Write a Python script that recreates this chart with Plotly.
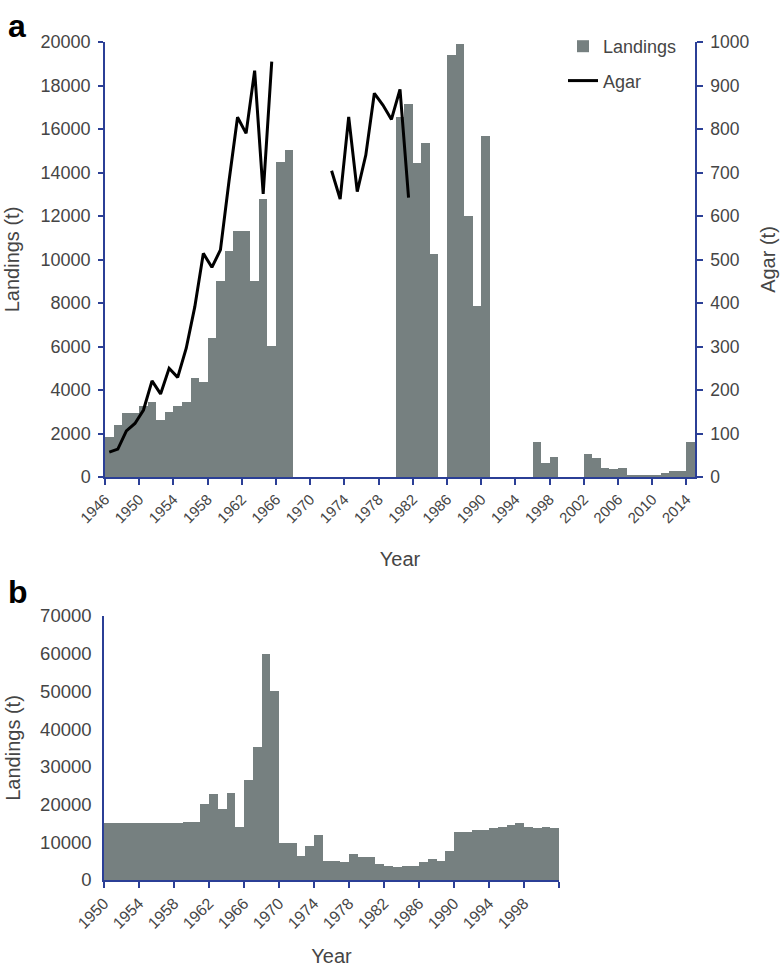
import plotly.graph_objects as go

# ---------------- Panel a data ----------------
years_a = list(range(1946, 2015))
landings_a = [
    1850, 2400, 2950, 2950, 3250, 3450, 2600, 3000, 3250, 3450,   # 1946-1955
    4550, 4370, 6400, 9000, 10400, 11300, 11300, 9000, 12800, 6040,  # 1956-1965
    14500, 15050, 0, 0, 0, 0, 0, 0, 0, 0,                          # 1966-1975
    0, 0, 0, 0, 16540, 17150, 14450, 15340, 10250, 0,              # 1976-1985
    19400, 19910, 12000, 7860, 15690, 0, 0, 0, 0, 0,               # 1986-1995
    1625, 660, 920, 0, 0, 0, 1070, 860, 430, 350,                  # 1996-2005
    430, 80, 80, 80, 80, 170, 290, 290, 1625                       # 2006-2014
]

agar_years = list(range(1946, 1966)) + [None] + list(range(1972, 1982))
agar_values = [
    57, 64, 106, 123, 154, 221, 191, 250, 229, 296,
    391, 514, 482, 522, 680, 827, 790, 934, 651, 955,
    None,
    704, 639, 828, 656, 740, 882, 855, 822, 891, 642
]

ticks_a = list(range(1946, 2015, 4))
yticks_a = list(range(0, 20001, 2000))
yticks_a2 = list(range(0, 1001, 100))

# ---------------- Panel b data ----------------
years_b = list(range(1950, 2002))
landings_b = [
    15000, 15000, 15000, 15000, 15000, 15000, 15000, 15000, 15000, 15500,  # 1950-1959
    15500, 20150, 22700, 18800, 23150, 14140, 26500, 35200, 59900, 50100,  # 1960-1969
    9900, 9900, 6360, 9000, 11930, 5130, 5130, 4680, 6900, 6000,           # 1970-1979
    6000, 4240, 3800, 3360, 3800, 3800, 4680, 5570, 5130, 7690,            # 1980-1989
    12820, 12820, 13260, 13260, 13700, 13960, 14580, 15030, 14140, 13700,  # 1990-1999
    14140, 13700                                                           # 2000-2001
]
ticks_b = list(range(1950, 2003, 4))
ticktext_b = [str(t) if t <= 1998 else "" for t in ticks_b]
yticks_b = list(range(0, 70001, 10000))

BAR = "rgb(118,128,128)"
AXIS = "#2b3f96"
TXT = "#454545"
FONT = "Liberation Sans, Arial, Helvetica, sans-serif"

W, H = 780, 970


def fx(px):
    return px / W


def fy(py):
    return 1 - py / H


def tf(size):
    return dict(family=FONT, color=TXT, size=size)


fig = go.Figure()

fig.add_trace(go.Bar(
    x=[y + 0.5 for y in years_a], y=landings_a, width=1,
    marker=dict(color=BAR, line=dict(width=0)),
    name="Landings", xaxis="x", yaxis="y", showlegend=True, legendgroup="land",
))
fig.add_trace(go.Scatter(
    x=[(y + 0.5) if y is not None else None for y in agar_years], y=agar_values,
    mode="lines", line=dict(color="black", width=3),
    name="Agar", xaxis="x", yaxis="y2", connectgaps=False, legendgroup="agar",
))
fig.add_trace(go.Bar(
    x=[y + 0.5 for y in years_b], y=landings_b, width=1,
    marker=dict(color=BAR, line=dict(width=0)),
    name="Landings (b)", xaxis="x2", yaxis="y3", showlegend=False,
))

common = dict(
    showline=True, linecolor=AXIS, linewidth=1.5, showgrid=False, zeroline=False,
    tickcolor=AXIS, tickwidth=1.5, automargin=False, tickmode="array",
)

fig.update_layout(
    width=W, height=H,
    margin=dict(l=0, r=0, t=0, b=0),
    paper_bgcolor="white", plot_bgcolor="white",
    font=dict(family=FONT, color=TXT),
    bargap=0,
    xaxis=dict(
        **common,
        domain=[fx(105), fx(695)], anchor="y",
        range=[1946, 2015], tickvals=ticks_a,
        ticktext=[str(t) for t in ticks_a], tickangle=-45,
        ticks="outside", ticklen=6, tickfont=tf(15),
        title=dict(text="Year", font=tf(20), standoff=27),
    ),
    yaxis=dict(
        **common,
        domain=[fy(477), fy(42)], anchor="x",
        range=[0, 20000], tickvals=yticks_a, ticktext=[str(v) for v in yticks_a],
        ticks="outside", ticklen=5, tickfont=tf(18), ticklabelstandoff=4,
        title=dict(text="Landings (t)", font=tf(20), standoff=16),
    ),
    yaxis2=dict(
        **common,
        overlaying="y", side="right", anchor="x",
        range=[0, 1000], tickvals=yticks_a2, ticktext=[str(v) for v in yticks_a2],
        ticks="outside", ticklen=6, tickfont=tf(17.5), ticklabelstandoff=4,
        title=dict(text="Agar (t)", font=tf(20), standoff=13),
    ),
    xaxis2=dict(
        **common,
        domain=[fx(104), fx(559)], anchor="y3",
        range=[1950, 2002], tickvals=ticks_b, ticktext=ticktext_b,
        tickangle=-45, ticks="outside", ticklen=6, tickfont=tf(16),
        title=dict(text="Year", font=tf(20), standoff=18),
    ),
    yaxis3=dict(
        **common,
        domain=[fy(880), fy(616)], anchor="x2",
        range=[0, 70000], tickvals=yticks_b, ticktext=[str(v) for v in yticks_b],
        ticks="", tickfont=tf(18.5), ticklabelstandoff=7,
        title=dict(text="Landings (t)", font=tf(20), standoff=14),
    ),
    legend=dict(
        x=fx(563), y=fy(28), xanchor="left", yanchor="top",
        font=tf(18),
        bgcolor="rgba(0,0,0,0)", itemwidth=30, tracegroupgap=8,
    ),
    annotations=[
        dict(text="<b>a</b>", x=fx(6), y=fy(6), xref="paper", yref="paper",
             xanchor="left", yanchor="top", showarrow=False,
             font=dict(size=32, family=FONT, color="black")),
        dict(text="<b>b</b>", x=fx(6), y=fy(572), xref="paper", yref="paper",
             xanchor="left", yanchor="top", showarrow=False,
             font=dict(size=32, family=FONT, color="black")),
    ],
)

fig.write_html("out.html", config={"displayModeBar": False},
               post_script="document.body.style.margin='0';")
